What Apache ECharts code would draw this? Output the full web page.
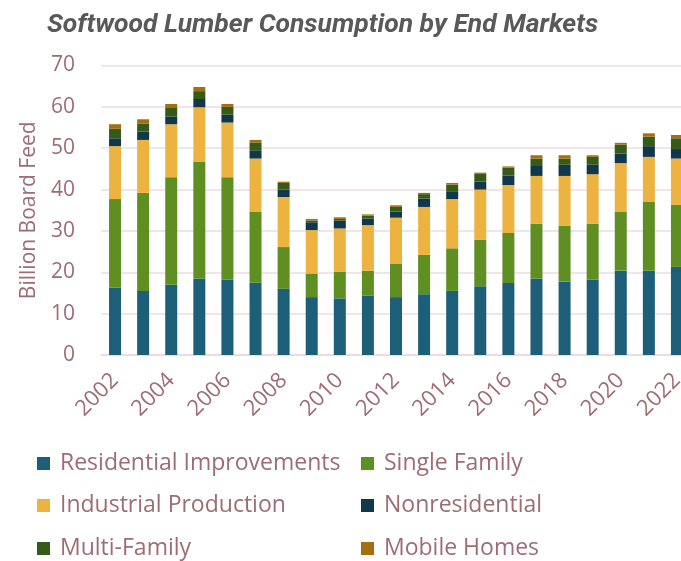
<!DOCTYPE html>
<html>
<head>
<meta charset="utf-8">
<script src="https://cdn.jsdelivr.net/npm/echarts@6/dist/echarts.min.js"></script>
<style>html,body{margin:0;padding:0;background:#fff;overflow:hidden}#c{width:691px;height:561px}</style>
</head>
<body>
<div id="c"></div>
<script>
var years = ['2002','2003','2004','2005','2006','2007','2008','2009','2010','2011','2012','2013','2014','2015','2016','2017','2018','2019','2020','2021','2022'];
var residentialImprovements = [16.3,15.5,17.0,18.5,18.2,17.5,16.0,14.0,13.7,14.4,14.0,14.7,15.5,16.6,17.4,18.5,17.8,18.2,20.4,20.4,21.3];
var singleFamily = [21.4,23.7,26.0,28.3,24.8,17.2,10.1,5.7,6.4,6.0,8.0,9.5,10.3,11.3,12.1,13.2,13.5,13.5,14.3,16.6,15.0];
var industrialProduction = [12.8,12.8,12.8,13.1,13.2,12.8,12.1,10.5,10.5,11.0,11.2,11.6,11.9,12.1,11.6,11.6,12.0,12.0,11.7,10.9,11.2];
var nonresidential = [1.9,2.0,1.9,2.0,1.9,2.0,1.8,1.9,1.9,1.6,1.5,2.0,1.9,1.9,2.3,2.4,2.7,2.3,2.3,2.6,2.3];
var multiFamily = [2.3,1.9,2.2,1.9,1.9,1.9,1.6,0.4,0.4,0.7,1.1,1.1,1.6,1.9,1.9,1.8,1.5,1.9,2.2,2.3,2.6];
var mobileHomes = [1.1,1.1,0.8,1.0,0.7,0.6,0.3,0.4,0.4,0.3,0.4,0.3,0.4,0.3,0.3,0.8,0.8,0.4,0.4,0.8,0.8];
var seriesNames = ['Residential Improvements','Single Family','Industrial Production','Nonresidential','Multi-Family','Mobile Homes'];
var yTicks = [0,10,20,30,40,50,60,70];

var colors = ['#1D5E79','#5F8F22','#EDB341','#11374A','#365A17','#A4700F'];
var textColor = '#9E6C75';
var font = 'Open Sans';
var dataSets = [residentialImprovements, singleFamily, industrialProduction, nonresidential, multiFamily, mobileHomes];

var legendPos = [
  {left: 37, top: 452}, {left: 361, top: 452},
  {left: 37, top: 494}, {left: 361, top: 494},
  {left: 37, top: 537}, {left: 361, top: 537}
];
var legends = seriesNames.map(function(n, i){
  return {
    data: [n], left: legendPos[i].left, top: legendPos[i].top, padding: 0,
    icon: 'rect', itemWidth: 13, itemHeight: 13, selectedMode: false,
    textStyle: {color: textColor, fontSize: 23, fontFamily: font, lineHeight: 22, padding: [0,0,0,5]}
  };
});

var chart = echarts.init(document.getElementById('c'), null, {renderer: 'canvas'});
chart.setOption({
  animation: false,
  color: colors,
  title: {
    text: 'Softwood Lumber Consumption by End Markets',
    left: 47, top: 12, padding: 0,
    textStyle: {fontFamily: 'Roboto', fontStyle: 'italic', fontWeight: 'bold', fontSize: 26.5, color: '#595959'}
  },
  legend: legends,
  grid: {left: 101, right: 0, top: 65.5, bottom: 206, containLabel: false},
  xAxis: {
    type: 'category', data: years,
    axisLine: {lineStyle: {color: '#E8D9DE', width: 1.5}},
    axisTick: {show: false},
    axisLabel: {interval: 1, rotate: 45, color: textColor, fontSize: 22, fontFamily: font, margin: 22}
  },
  yAxis: {
    type: 'value', min: yTicks[0], max: yTicks[yTicks.length-1], interval: 10,
    name: 'Billion Board Feed', nameLocation: 'middle', nameGap: 61, nameRotate: 90,
    nameTextStyle: {color: textColor, fontSize: 21, fontFamily: font},
    axisLine: {show: false}, axisTick: {show: false},
    axisLabel: {color: textColor, fontSize: 21, fontFamily: font, margin: 26},
    splitLine: {lineStyle: {color: '#EBDCE1', width: 1.5}}
  },
  series: seriesNames.map(function(n, i){
    return {name: n, type: 'bar', stack: 'total', barWidth: 12, data: dataSets[i],
      itemStyle: {color: colors[i]}};
  })
});
</script>
</body>
</html>
